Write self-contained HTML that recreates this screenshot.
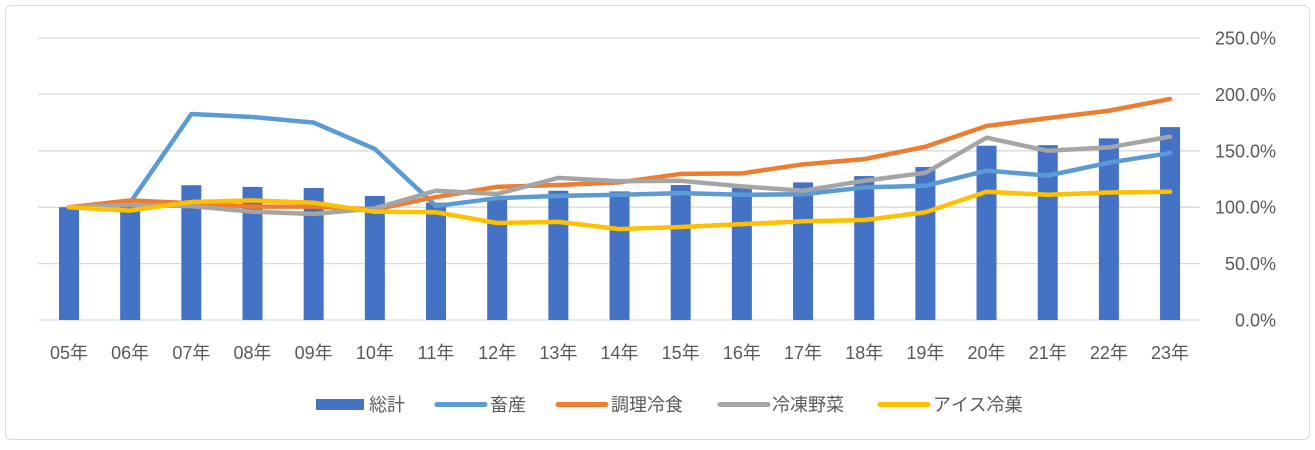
<!DOCTYPE html>
<html><head><meta charset="utf-8"><style>
body{margin:0;background:#fff;}
svg text{font-family:"Liberation Sans","Noto Sans CJK JP",sans-serif;fill:#595959;font-size:18px;}
</style></head><body>
<svg width="1315" height="445" xmlns="http://www.w3.org/2000/svg">
<rect x="5.5" y="5.5" width="1304" height="434" rx="6" fill="#fff" stroke="#d9d9d9"/>
<g id="grid"></g><g id="bars"></g><g id="lines"></g><g id="xlabels"></g><g id="ylabels"></g><g id="legend"></g>
</svg>
<script>
const categories=["05年","06年","07年","08年","09年","10年","11年","12年","13年","14年","15年","16年","17年","18年","19年","20年","21年","22年","23年"];
const total=[100,100,119.5,118,117,110,104,109,114.6,114,119.7,117,122,127.6,135.6,154.5,155,161,171];
const livestock=[100,104,182.6,180,175,151.6,101,108,110,111,112.5,111,111.5,117.6,119,132.4,128,139.5,148];
const cooked=[100,106,103.5,100.5,100.5,98,109,118,119.7,122,129.5,130,138,142.6,153.6,172,179,185.5,196];
const vegetables=[100,102,101,96,94,99,114.6,111.7,126,123,123.4,118.5,114.6,123.4,130.5,161.6,150,153,162.5];
const icecream=[100,97,104.6,106,104,96,95.5,86,87,80.6,82.5,85,87.5,88.6,95.5,113.7,111,113,113.7];
const yTicks=[0,50,100,150,200,250];
const yTickLabels=["0.0%","50.0%","100.0%","150.0%","200.0%","250.0%"];
const NS="http://www.w3.org/2000/svg";
const x0=69,dx=61.17,yBase=320,yPer=282/250,left=38,right=1200;
const X=i=>x0+i*dx, Y=v=>yBase-v*yPer;
function mk(t,a,p){const e=document.createElementNS(NS,t);for(const k in a)e.setAttribute(k,a[k]);p.appendChild(e);return e;}
const g=document.getElementById('grid'),yl=document.getElementById('ylabels');
yTicks.forEach((v,i)=>{
 const l=mk('line',{x1:left,x2:right,y1:Y(v),y2:Y(v),stroke:'#d9d9d9','stroke-width':1.3},g);
 
 
 const t=mk('text',{x:1276,y:Y(v)+6.5,'text-anchor':'end'},yl);t.textContent=yTickLabels[i];
 
 
});
const b=document.getElementById('bars');
total.forEach((v,i)=>{
 const r=mk('rect',{x:X(i)-10,y:Y(v),width:20,height:yBase-Y(v),fill:'#4472c4'},b);
 
 
});
const ln=document.getElementById('lines');
[[livestock,'#5b9bd5','line-livestock'],[cooked,'#ed7d31','line-cooked'],[vegetables,'#a5a5a5','line-vegetables'],[icecream,'#ffc000','line-icecream']].forEach(([d,c,n])=>{
 const p=mk('polyline',{points:d.map((v,i)=>X(i)+','+Y(v)).join(' '),fill:'none',stroke:c,'stroke-width':4.5,'stroke-linejoin':'round','stroke-linecap':'round'},ln);
 
 
});
const xl=document.getElementById('xlabels');
categories.forEach((c,i)=>{
 const t=mk('text',{x:X(i),y:359,'text-anchor':'middle'},xl);t.textContent=c;
 
 
});
const lg=document.getElementById('legend');
const items=[['総計','#4472c4',316,369,true],['畜産','#5b9bd5',437,490,false],['調理冷食','#ed7d31',558,611,false],['冷凍野菜','#a5a5a5',720,772,false],['アイス冷菓','#ffc000',880,933,false]];
items.forEach(([name,c,sx,tx,isBar])=>{
 const gg=mk('g',{},lg);
 
 
 if(isBar)mk('rect',{x:sx,y:399,width:48,height:11,fill:c},gg);
 else mk('line',{x1:sx,x2:sx+48,y1:404.5,y2:404.5,stroke:c,'stroke-width':5,'stroke-linecap':'round'},gg);
 const t=mk('text',{x:tx,y:411},gg);t.textContent=name;
});
</script>
</body></html>
